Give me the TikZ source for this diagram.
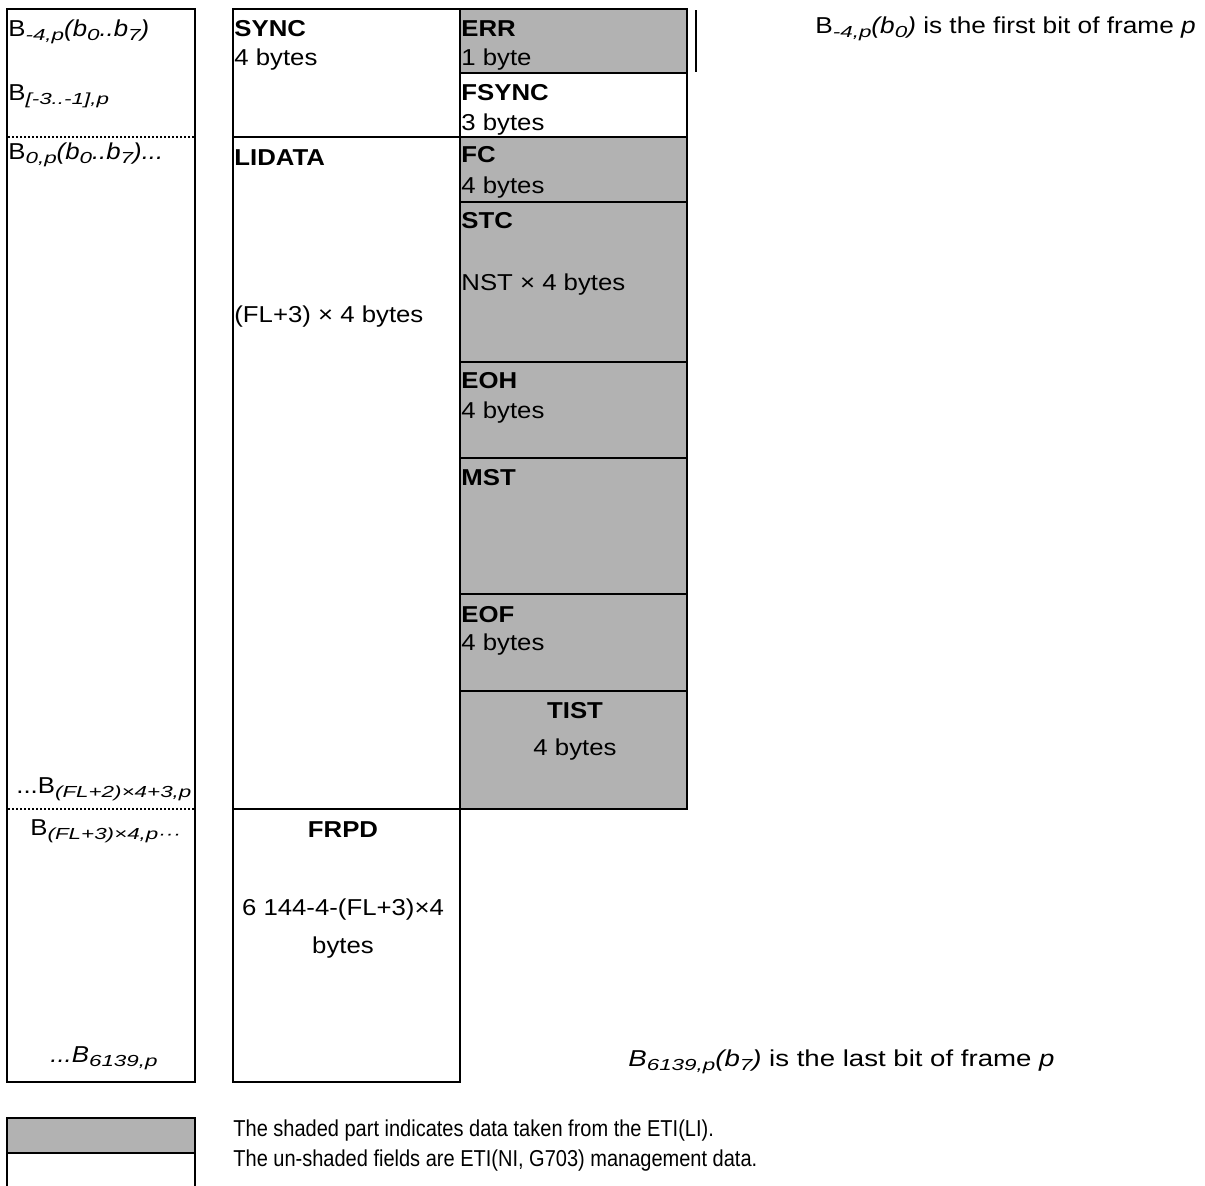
\documentclass[tikz,border=0pt]{standalone}
\usepackage{fontspec}
\setmainfont[FakeStretch=1.12]{Liberation Sans}
\newfontfamily\subff[FakeStretch=1.4]{Liberation Sans}
\newfontfamily\noteaff[FakeStretch=1.14]{Liberation Sans}
\newfontfamily\notebff[FakeStretch=1.2]{Liberation Sans}
\newfontfamily\legff[FakeStretch=0.87]{Liberation Sans}
\definecolor{shade}{RGB}{178,178,178}
\newcommand\fs{\fontsize{11.5}{13.8}\selectfont}
\newcommand\lsub[1]{\raisebox{-2.3pt}{\subff\fontsize{8}{8}\selectfont\itshape #1}}
\tikzset{
  cell/.style={draw=black, line width=1pt},
  shcell/.style={cell, fill=shade},
  lbl/.style={anchor=base west, inner sep=0pt, font=\fs},
  clbl/.style={anchor=base, inner sep=0pt, font=\fs},
  dotline/.style={line width=1pt, dash pattern=on 1pt off 1pt},
}
\begin{document}
\begin{tikzpicture}[x=0.5pt,y=-0.5pt]
\useasboundingbox (0,0) rectangle (1205,1185);
% left column
\draw[cell] (7,9) rectangle (195,1082);
\draw[dotline] (8,137) -- (195,137);
\draw[dotline] (8,809) -- (195,809);
\node[lbl] (l1) at (8,36) {B\lsub{-4,p}\textit{(b\lsub{0}..b\lsub{7})}};
\node[lbl] (l2) at (8,100) {B\lsub{[-3..-1],p}};
\node[lbl] (l3) at (8,159) {B\lsub{0,p}\textit{(b\lsub{0}..b\lsub{7})...}};
\node[lbl] (l4) at (16,793) {...B\lsub{(FL+2)×4+3,p}};
\node[lbl] (l5) at (30,835) {B\lsub{(FL+3)×4,p···}};
\node[lbl] (l6) at (50,1062) {\textit{...B\lsub{6139,p}}};
% middle column
\draw[cell] (233,9) rectangle (460,137);
\draw[cell] (233,137) rectangle (460,809);
\draw[cell] (233,809) rectangle (460,1082);
\node[lbl] (sync) at (234,36) {\textbf{SYNC}};
\node[lbl] (sync2) at (234,65) {4 bytes};
\node[lbl] (lid) at (234,165) {\textbf{LIDATA}};
\node[lbl] (lid2) at (234,322) {(FL+3) × 4 bytes};
\node[clbl] (frpd) at (343,837) {\textbf{FRPD}};
\node[clbl] (frpd2) at (343,915) {6 144-4-(FL+3)×4};
\node[clbl] (frpd3) at (343,953) {bytes};
% right column
\draw[shcell] (460,9) rectangle (687,73);
\draw[cell] (460,73) rectangle (687,137);
\draw[shcell] (460,137) rectangle (687,202);
\draw[shcell] (460,202) rectangle (687,362);
\draw[shcell] (460,362) rectangle (687,458);
\draw[shcell] (460,458) rectangle (687,594);
\draw[shcell] (460,594) rectangle (687,691);
\draw[shcell] (460,691) rectangle (687,809);
\draw[line width=1pt] (696,10) -- (696,72);
\node[lbl] (err) at (461,36) {\textbf{ERR}};
\node[lbl] (err2) at (461,65) {1 byte};
\node[lbl] (fsync) at (461,100) {\textbf{FSYNC}};
\node[lbl] (fsync2) at (461,130) {3 bytes};
\node[lbl] (fc) at (461,162) {\textbf{FC}};
\node[lbl] (fc2) at (461,193) {4 bytes};
\node[lbl] (stc) at (461,228) {\textbf{STC}};
\node[lbl] (stc2) at (461,290) {NST × 4 bytes};
\node[lbl] (eoh) at (461,388) {\textbf{EOH}};
\node[lbl] (eoh2) at (461,418) {4 bytes};
\node[lbl] (mst) at (461,485) {\textbf{MST}};
\node[lbl] (eof) at (461,622) {\textbf{EOF}};
\node[lbl] (eof2) at (461,650) {4 bytes};
\node[clbl] (tist) at (575,718) {\textbf{TIST}};
\node[clbl] (tist2) at (575,755) {4 bytes};
% notes
\node[lbl, font=\fs\noteaff] (first) at (815,33) {B\lsub{-4,p}\textit{(b\lsub{0})} is the first bit of frame \textit{p}};
\node[lbl, font=\fs\notebff] (last) at (628,1066) {\textit{B\lsub{6139,p}(b\lsub{7})} is the last bit of frame \textit{p}};
% legend
\draw[shcell] (7,1118) rectangle (195,1153);
\draw[line width=1pt] (7,1186) -- (7,1153) -- (195,1153) -- (195,1186);
\node[lbl, font=\fs\legff] (leg1) at (233,1136) {The shaded part indicates data taken from the ETI(LI).};
\node[lbl, font=\fs\legff] (leg2) at (233,1166) {The un-shaded fields are ETI(NI, G703) management data.};
\end{tikzpicture}
\end{document}
